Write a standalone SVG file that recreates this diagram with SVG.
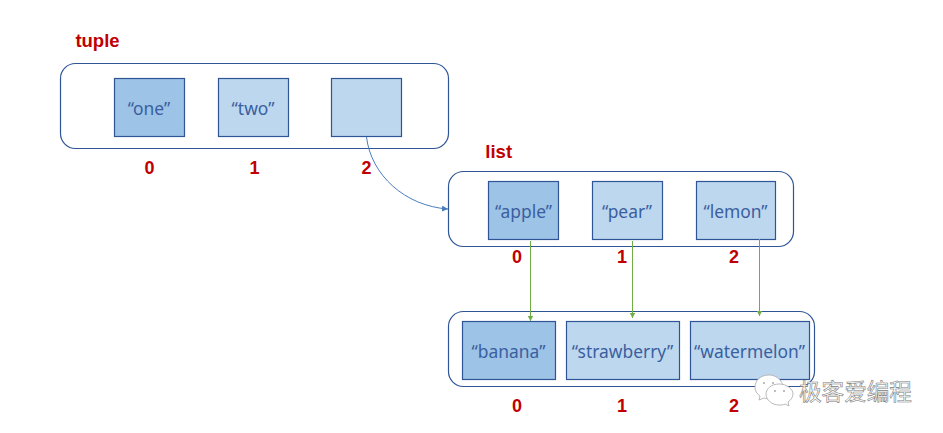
<svg xmlns="http://www.w3.org/2000/svg" width="943" height="433" viewBox="0 0 943 433">
<style>
.o{fill:#fff;stroke:#2f5597;stroke-width:1.2}
.a{fill:#9dc3e6;stroke:#2f5597;stroke-width:1.2}
.b{fill:#bdd7ee;stroke:#2f5597;stroke-width:1.2}
.t{font:17.4px "Noto Sans",Arial,sans-serif;fill:#3a5f9f;text-anchor:middle}
.r{font:bold 18px "Liberation Sans",Arial,sans-serif;fill:#c00000;text-anchor:middle}
.l{font:bold 18.500px "Liberation Sans",Arial,sans-serif;fill:#c00000;text-anchor:middle}
.g{fill:none;stroke:#70ad47;stroke-width:1}
.c{fill:none;stroke:#4a7ebb;stroke-width:1}
.w{font:22.6px "Noto Sans CJK SC",sans-serif;fill:#fff;stroke:#7a7a7a;stroke-width:.6}
.i{fill:#fff;stroke:#a8a8a8;stroke-width:.8}
</style>
<defs>
<marker id="mg" markerUnits="userSpaceOnUse" markerWidth="7" markerHeight="7" refX="5.5" refY="3.5" orient="auto"><path d="M0 0.5L5.5 3.5L0 6.500z" fill="#70ad47"/></marker>
<marker id="mb" markerUnits="userSpaceOnUse" markerWidth="7" markerHeight="7" refX="6" refY="3" orient="auto"><path d="M0 0L6 3L0 6z" fill="#4a7ebb"/></marker>
</defs>
<g id="tuple">
<text class="l" x="97.500" y="47">tuple</text>
<rect class="o" x="60.500" y="63.500" width="388" height="85" rx="15"/>
</g>
<g id="t0"><rect class="a" x="114.500" y="78.500" width="70" height="58"/><text class="t" x="149" y="115">“one”</text><text class="r" x="149.500" y="174">0</text></g>
<g id="t1"><rect class="b" x="218.500" y="78.500" width="70" height="58"/><text class="t" x="253" y="115">“two”</text><text class="r" x="254.500" y="174">1</text></g>
<g id="t2"><rect class="b" x="331.500" y="78.500" width="70" height="58"/><text class="r" x="366.500" y="174">2</text></g>
<g id="list">
<text class="l" x="498.700" y="158">list</text>
<rect class="o" x="448.500" y="171.500" width="345" height="75" rx="15"/>
</g>
<g id="l0"><rect class="a" x="488.500" y="181.500" width="70" height="58"/><text class="t" x="523.500" y="218">“apple”</text><text class="r" x="517" y="263">0</text></g>
<g id="l1"><rect class="b" x="592.500" y="181.500" width="70" height="58"/><text class="t" x="627" y="218">“pear”</text><text class="r" x="622" y="263">1</text></g>
<g id="l2"><rect class="b" x="696.500" y="181.500" width="79" height="58"/><text class="t" x="735.500" y="218">“lemon”</text><text class="r" x="734" y="263">2</text></g>
<g id="nested"><rect class="o" x="448.500" y="311.500" width="366" height="75" rx="15"/></g>
<g id="n0"><rect class="a" x="462.500" y="321.500" width="93" height="58"/><text class="t" x="508.500" y="358">“banana”</text><text class="r" x="517" y="412">0</text></g>
<g id="n1"><rect class="b" x="566.500" y="321.500" width="113" height="58"/><text class="t" x="622.500" y="358">“strawberry”</text><text class="r" x="622" y="412">1</text></g>
<g id="n2"><rect class="b" x="690.500" y="321.500" width="119" height="58"/><text class="t" x="749.500" y="358">“watermelon”</text><text class="r" x="734" y="412">2</text></g>
<g id="connectors">
<path class="c" d="M366.500 137C371 175 405 206 448 209" marker-end="url(#mb)"/>
<path class="g" d="M530.500 241V321" marker-end="url(#mg)"/>
<path class="g" d="M632.500 241V318" marker-end="url(#mg)"/>
<path class="g" d="M759.500 239V316" marker-end="url(#mg)"/>
</g>
<g id="watermark">
<path class="i" d="M769 375C760 375 755 381 755 387C755 391 757 394 760 396L759 400L764 398C770 400 778 399 782 393C786 385 779 375 769 375z"/>
<path class="i" d="M779 384C771 384 766 389 766 394C766 400 772 405 779 405C781 405 783 405 785 404L789 406L788 402C791 400 793 397 793 394C793 389 787 384 779 384z"/>
<circle cx="764" cy="383" r="1" fill="#a8a8a8"/><circle cx="773" cy="383" r="1" fill="#a8a8a8"/>
<circle cx="775" cy="391" r="1" fill="#a8a8a8"/><circle cx="784" cy="391" r="1" fill="#a8a8a8"/>
<text class="w" x="799" y="400">极客爱编程</text>
</g>
</svg>
